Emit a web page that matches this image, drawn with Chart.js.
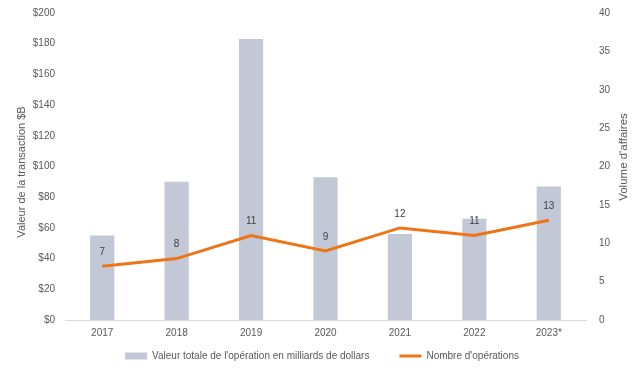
<!DOCTYPE html>
<html>
<head>
<meta charset="utf-8">
<script src="https://cdn.jsdelivr.net/npm/chart.js@4"></script>
<style>
  html, body { margin: 0; padding: 0; background: #ffffff; }
  #wrap { width: 640px; height: 374px; }
</style>
</head>
<body>
<div id="wrap"><canvas id="chart"></canvas></div>
<script>
// Data
const years = ['2017', '2018', '2019', '2020', '2021', '2022', '2023*'];
const dealValue = [55, 90, 183, 93, 56, 66, 87];   // milliards $
const dealCount = [7, 8, 11, 9, 12, 11, 13];

const BAR_COLOR = '#c3c8d6';
const LINE_COLOR = '#ee7418';
const TEXT_COLOR = '#595959';
const FONT = "'Liberation Sans', Arial, sans-serif";
const LEFT_TITLE = 'Valeur de la transaction $B';
const RIGHT_TITLE = "Volume d'affaires";

// Draw the count above each line point
const countLabels = {
  id: 'countLabels',
  afterDatasetsDraw(chart) {
    const meta = chart.getDatasetMeta(1);
    const ctx = chart.ctx;
    ctx.save();
    ctx.fillStyle = '#404040';
    ctx.font = '10px ' + FONT;
    ctx.textAlign = 'center';
    ctx.textBaseline = 'middle';
    meta.data.forEach((pt, i) => {
      ctx.fillText(String(dealCount[i]), pt.x, pt.y - 14);
    });
    ctx.restore();
  }
};

// Both axis titles read bottom-to-top (Chart.js turns the right one the other way)
function drawVertical(ctx, text, x, y, size) {
  ctx.save();
  ctx.translate(x, y);
  ctx.rotate(-Math.PI / 2);
  ctx.fillStyle = TEXT_COLOR;
  ctx.font = size + 'px ' + FONT;
  ctx.textAlign = 'center';
  ctx.textBaseline = 'middle';
  ctx.fillText(text, 0, 0);
  ctx.restore();
}

const axisTitles = {
  id: 'axisTitles',
  afterDraw(chart) {
    drawVertical(chart.ctx, LEFT_TITLE, 22, 172, 11);
    drawVertical(chart.ctx, RIGHT_TITLE, 624, 157, 11.5);
  }
};

// fixed widths for the side axes (room for the titles), no extra vertical padding
function fixSide(width) {
  return function (scale) {
    scale.width = width;
    scale.paddingTop = 0;
    scale.paddingBottom = 0;
  };
}

new Chart(document.getElementById('chart'), {
  data: {
    labels: years,
    datasets: [
      {
        type: 'bar',
        label: "Valeur totale de l'opération en milliards de dollars",
        data: dealValue,
        backgroundColor: BAR_COLOR,
        borderWidth: 0,
        barPercentage: 0.65,
        categoryPercentage: 0.5,
        yAxisID: 'y',
        order: 2,
      },
      {
        type: 'line',
        label: "Nombre d'opérations",
        data: dealCount,
        borderColor: LINE_COLOR,
        backgroundColor: LINE_COLOR,
        borderWidth: 3,
        pointRadius: 0,
        tension: 0,
        yAxisID: 'y1',
        order: 1,
      },
    ],
  },
  options: {
    responsive: true,
    maintainAspectRatio: false,
    animation: false,
    layout: { padding: { top: 13, left: 8, right: 4, bottom: 3 } },
    plugins: {
      tooltip: { enabled: false },
      legend: {
        position: 'bottom',
        labels: {
          color: TEXT_COLOR,
          font: { family: FONT, size: 10 },
          usePointStyle: true,
          pointStyleWidth: 22,
          boxHeight: 7,
          padding: 5,
          generateLabels(chart) {
            const items = Chart.defaults.plugins.legend.labels.generateLabels(chart);
            items.sort((a, b) => a.datasetIndex - b.datasetIndex);
            items[0].pointStyle = 'rect';
            items[0].lineWidth = 0;
            items[0].text += '\u2002\u2002\u2002\u2002\u2002'; // wider gap between entries
            items[1].pointStyle = 'line';
            items[1].lineWidth = 3;
            items[1].strokeStyle = LINE_COLOR;
            return items;
          },
        },
      },
    },
    scales: {
      x: {
        grid: { display: false, drawTicks: false },
        border: { color: '#d9d9d9', width: 1 },
        ticks: { color: TEXT_COLOR, font: { family: FONT, size: 10 }, padding: 7 },
      },
      y: {
        position: 'left',
        min: 0,
        max: 200,
        afterFit: fixSide(57),
        ticks: {
          stepSize: 20,
          color: TEXT_COLOR,
          font: { family: FONT, size: 10 },
          padding: 10,
          callback: v => '$' + v,
        },
        grid: { display: false, drawTicks: false },
        border: { display: false },
      },
      y1: {
        position: 'right',
        min: 0,
        max: 40,
        afterFit: fixSide(50),
        ticks: {
          stepSize: 5,
          color: TEXT_COLOR,
          font: { family: FONT, size: 10 },
          padding: 13,
        },
        grid: { display: false, drawTicks: false },
        border: { display: false },
      },
    },
  },
  plugins: [countLabels, axisTitles],
});
</script>
</body>
</html>
